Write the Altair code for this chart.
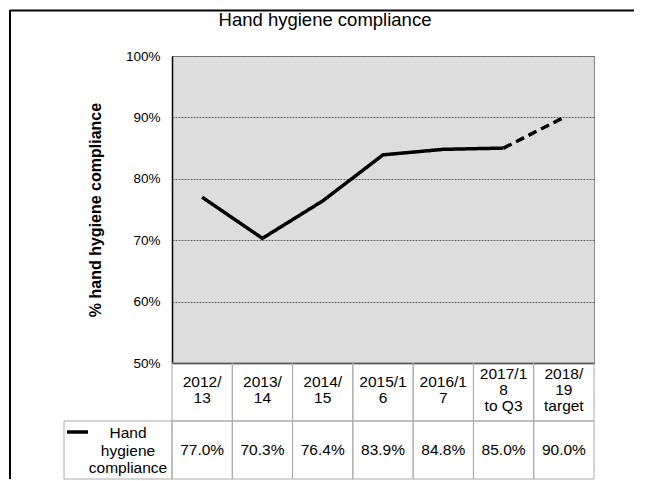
import altair as alt
import pandas as pd

# ---------------- data ----------------
categories = ["2012/13", "2013/14", "2014/15", "2015/16", "2016/17",
              "2017/18 to Q3", "2018/19 target"]
cat_labels = ["2012/\n13", "2013/\n14", "2014/\n15", "2015/1\n6", "2016/1\n7",
              "2017/1\n8\nto Q3", "2018/\n19\ntarget"]
compliance = [77.0, 70.3, 76.4, 83.9, 84.8, 85.0, 90.0]
chart_title = "Hand hygiene compliance"
legend_label = "Hand\nhygiene\ncompliance"
y_ticks = [50, 60, 70, 80, 90, 100]
actual_count = 6  # first six points are actuals, last one is the target

FONT = "Liberation Sans"
PLOT_W, PLOT_H = 422, 307
TABLE_H = 116
GRID_COL = "#aaaaaa"
LINE_H = 16

# line data: solid for actuals, dashed from last actual to the target
rows = []
for i, (c, v) in enumerate(zip(categories, compliance)):
    if i < actual_count:
        rows.append({"cat": c, "val": v, "part": "actual"})
    if i >= actual_count - 1:
        rows.append({"cat": c, "val": v, "part": "target"})
line_df = pd.DataFrame(rows)

table_rows = []
for c, lab, v in zip(categories, cat_labels, compliance):
    table_rows.append({"cat": c, "row": "cat", "text": lab,
                       "nlines": lab.count("\n") + 1})
    table_rows.append({"cat": c, "row": "val", "text": f"{v:.1f}%",
                       "nlines": 1})
table_df = pd.DataFrame(table_rows)

one = pd.DataFrame({"k": [0]})

# ---------------- top: line chart ----------------
x_enc = alt.X("cat:N", sort=categories,
              scale=alt.Scale(type="point", padding=0.5),
              axis=alt.Axis(labels=False, ticks=False, title=None, grid=False,
                            domainColor="black", domainWidth=1.5))
y_enc = alt.Y("val:Q",
              scale=alt.Scale(domain=[50, 100], nice=False, zero=False),
              axis=alt.Axis(values=y_ticks, labelExpr="datum.value + '%'",
                            title="% hand hygiene compliance",
                            titleFont=FONT, titleFontSize=16, titleFontWeight="bold",
                            titleColor="black", titlePadding=22,
                            labelFont=FONT, labelFontSize=13.5, labelColor="black",
                            labelPadding=12, ticks=False,
                            domainColor="black", domainWidth=1.5,
                            grid=True, gridColor="#666666", gridDash=[2, 1],
                            gridWidth=1))

line = alt.Chart(line_df).mark_line(color="black", strokeWidth=3.5).encode(
    x=x_enc, y=y_enc,
    strokeDash=alt.StrokeDash("part:N",
                              scale=alt.Scale(domain=["actual", "target"],
                                              range=[[1, 0], [9, 5]]),
                              legend=None),
)

title_text = alt.Chart(one).mark_text(
    font=FONT, fontSize=18.5, color="black", align="center",
    baseline="middle").encode(x=alt.value(153), y=alt.value(-36),
                              text=alt.value(chart_title))

top_border = alt.Chart(one).mark_rule(color="black", strokeWidth=2).encode(
    x=alt.value(-162), x2=alt.value(462), y=alt.value(-45.5))
left_border_top = alt.Chart(one).mark_rule(color="black", strokeWidth=2).encode(
    x=alt.value(-162), y=alt.value(-46), y2=alt.value(PLOT_H))

top = alt.layer(line, title_text, top_border, left_border_top).properties(
    width=PLOT_W, height=PLOT_H,
    view=alt.ViewBackground(fill="#dddddd", stroke="#888888", strokeWidth=1),
)

# ---------------- bottom: data table ----------------
tx = alt.X("cat:N", sort=categories,
           scale=alt.Scale(paddingInner=0, paddingOuter=0), axis=None)
ty = alt.Y("row:N", sort=["cat", "val"],
           scale=alt.Scale(paddingInner=0, paddingOuter=0), axis=None)

cells = alt.Chart(table_df).mark_rect(filled=False, color=GRID_COL,
                                      strokeWidth=1).encode(x=tx, y=ty)


def text_layer(n, dy):
    return alt.Chart(table_df).transform_filter(
        alt.datum.nlines == n
    ).mark_text(
        font=FONT, fontSize=15.5, color="black", lineBreak="\n",
        lineHeight=LINE_H, align="center", baseline="middle", dy=dy
    ).encode(x=tx, y=ty, text="text:N")


text1 = text_layer(1, 0)
text2 = text_layer(2, -10)
text3 = text_layer(3, -18)

legend_cell = alt.Chart(one).mark_rect(filled=False, color=GRID_COL,
                                       strokeWidth=1).encode(
    x=alt.value(-108), x2=alt.value(0), y=alt.value(TABLE_H / 2),
    y2=alt.value(TABLE_H))
legend_line = alt.Chart(one).mark_rule(color="black", strokeWidth=3.5).encode(
    x=alt.value(-105), x2=alt.value(-84), y=alt.value(69))
legend_text = alt.Chart(one).mark_text(
    font=FONT, fontSize=15.5, color="black", lineBreak="\n", lineHeight=17.5,
    align="center", baseline="middle").encode(
    x=alt.value(-44), y=alt.value(70), text=alt.value(legend_label))
left_border_bot = alt.Chart(one).mark_rule(color="black", strokeWidth=2).encode(
    x=alt.value(-162), y=alt.value(0), y2=alt.value(TABLE_H))

table = alt.layer(cells, text1, text2, text3, legend_cell, legend_line,
                  legend_text, left_border_bot).properties(
    width=PLOT_W, height=TABLE_H,
    view=alt.ViewBackground(strokeWidth=0),
)

chart = alt.vconcat(top, table, spacing=0, bounds="flush").properties(
    padding=0, background="white"
).configure_view(strokeWidth=0)

chart.save("out.html", embed_options={"renderer": "svg", "actions": False})
